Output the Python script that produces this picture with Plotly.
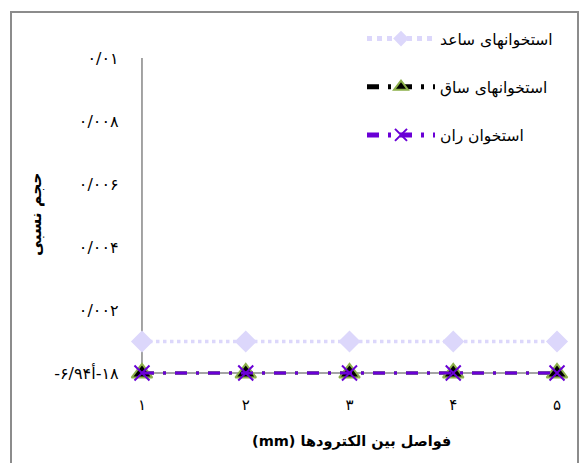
import plotly.graph_objects as go

# ---- data ----
x_vals = [1, 2, 3, 4, 5]
x_ticktext = ["۱", "۲", "۳", "۴", "۵"]
saed = [0.001, 0.001, 0.001, 0.001, 0.001]   # استخوانهای ساعد
saq = [0, 0, 0, 0, 0]                         # استخوانهای ساق
ran = [0, 0, 0, 0, 0]                         # استخوان ران
y_tickvals = [0, 0.002, 0.004, 0.006, 0.008, 0.01]
y_ticktext = ["\u202d-۶/۹۴أ-۱۸\u202c", "۰/۰۰۲", "۰/۰۰۴", "۰/۰۰۶", "۰/۰۰۸", "۰/۰۱"]
names = ["استخوانهای ساعد", "استخوانهای ساق", "استخوان ران"]
x_title = "\u202bفواصل بین الکترودها (mm)\u202c"
y_title = "حجم نسبی"

W, H = 579, 463
FONT = "DejaVu Sans"

# frame (paper area) in pixels: chart border left/top/right
PL, PT, PR, PB = 12, 13, 577, 463
# plot area in pixels
xr = [0.9, 5.1]
yr = [-0.0002, 0.0102]
L, R = 131.6, 567.4
T, B = 51.7, 379.3


def px_x(p):
    return (p - PL) / (PR - PL)


def px_y(p):
    return (PB - p) / (PB - PT)


fig = go.Figure()

fig.add_trace(go.Scatter(
    x=x_vals, y=saed, name=names[0], mode="lines+markers",
    line=dict(color="#DCD7FB", width=3.5, dash="dot"),
    marker=dict(symbol="diamond", size=17, color="#DCD7FB"),
    cliponaxis=False, legendgroup="a",
))
fig.add_trace(go.Scatter(
    x=x_vals, y=saq, name=names[1], mode="lines+markers",
    line=dict(color="#000000", width=3, dash="12px,9px,3px,9px"),
    marker=dict(symbol="triangle-up", size=18, color="#000000",
                line=dict(color="#8CB04A", width=2)),
    cliponaxis=False, legendgroup="b",
))
fig.add_trace(go.Scatter(
    x=x_vals, y=ran, name=names[2], mode="lines+markers",
    line=dict(color="#6A00D6", width=3, dash="12px,9px,3px,9px"),
    marker=dict(symbol="x-thin", size=15, color="#6A00D6",
                line=dict(color="#6A00D6", width=2)),
    cliponaxis=False, legendgroup="c",
))
# empty frame subplot (its axis lines draw the chart border)
fig.add_trace(go.Scatter(x=[], y=[], xaxis="x2", yaxis="y2", showlegend=False,
                         hoverinfo="skip"))

# axis lines (drawn below traces)
fig.add_shape(type="line", xref="x", yref="y", x0=min(x_vals), x1=max(x_vals),
              y0=min(y_tickvals), y1=min(y_tickvals),
              line=dict(color="#868686", width=1.5), layer="below")
fig.add_shape(type="line", xref="x", yref="y", x0=min(x_vals), x1=min(x_vals),
              y0=min(y_tickvals), y1=max(y_tickvals),
              line=dict(color="#868686", width=1.5), layer="below")

fig.add_annotation(text="<b>" + x_title + "</b>", xref="paper", yref="paper",
                   x=px_x(351), y=px_y(441), xanchor="center", yanchor="middle",
                   showarrow=False,
                   font=dict(family=FONT, size=14.5, color="#000"))
fig.add_annotation(text="<b>" + y_title + "</b>", xref="paper", yref="paper",
                   x=px_x(36), y=px_y(214), xanchor="center", yanchor="middle",
                   showarrow=False, textangle=-90,
                   font=dict(family=FONT, size=15.5, color="#000"))

frame_axis = dict(showgrid=False, zeroline=False, showticklabels=False, ticks="",
                  showline=True, linecolor="#8C8C8C", linewidth=1.5,
                  range=[0, 1], domain=[0, 1], fixedrange=True)

fig.update_layout(
    width=W, height=H,
    margin=dict(l=PL, r=W - PR, t=PT, b=H - PB, pad=0, autoexpand=False),
    paper_bgcolor="white", plot_bgcolor="rgba(0,0,0,0)",
    font=dict(family=FONT, size=13, color="#000"),
    showlegend=True,
    legend=dict(x=px_x(362), y=px_y(22), xanchor="left", yanchor="top",
                bgcolor="rgba(0,0,0,0)", itemwidth=68, tracegroupgap=25,
                itemsizing="constant",
                font=dict(family=FONT, size=15.5, color="#000")),
    xaxis=dict(range=xr, domain=[px_x(L), px_x(R)], anchor="y",
               showgrid=False, zeroline=False, showline=False,
               tickvals=x_vals, ticktext=x_ticktext, ticks="",
               ticklabelstandoff=15, tickfont=dict(family=FONT, size=15)),
    yaxis=dict(range=yr, domain=[px_y(B), px_y(T)], anchor="x",
               showgrid=False, zeroline=False, showline=False,
               tickvals=y_tickvals, ticktext=y_ticktext, ticks="",
               ticklabelstandoff=12, tickfont=dict(family=FONT, size=16)),
    xaxis2=dict(frame_axis, anchor="y2", side="top"),
    yaxis2=dict(frame_axis, anchor="x2", mirror=True),
)

fig.write_html("out.html")
